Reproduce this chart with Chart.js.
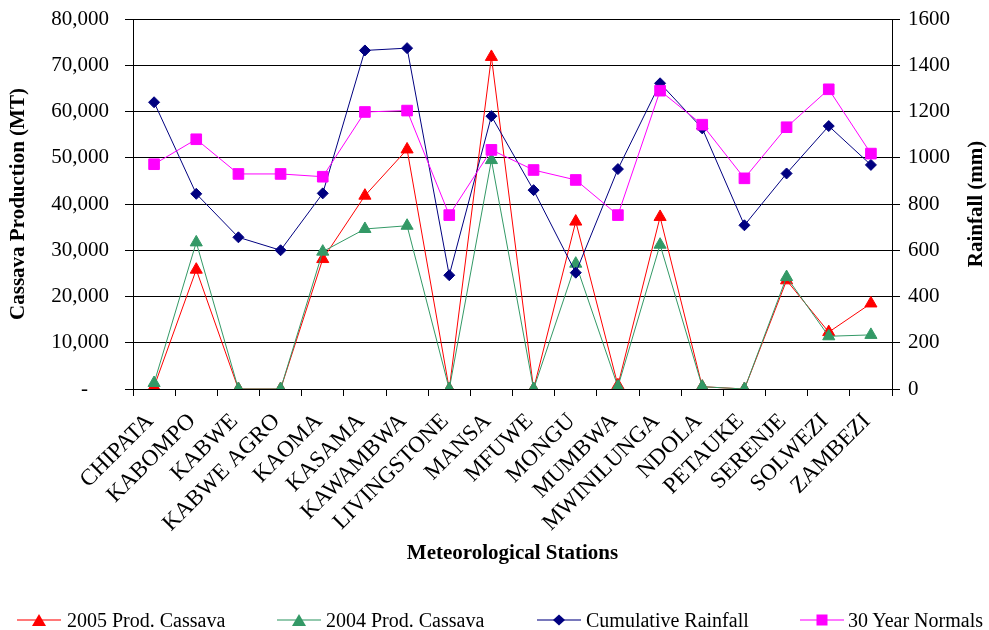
<!DOCTYPE html>
<html>
<head>
<meta charset="utf-8">
<script src="https://cdn.jsdelivr.net/npm/chart.js@4.4.1/dist/chart.umd.min.js"></script>
<style>
  html, body { margin: 0; padding: 0; background: #fff; }
  #wrap { position: relative; width: 989px; height: 630px; }
  #c { position: absolute; left: 0; top: 0; }
  .lg { position: absolute; top: 607px; height: 26px; font: 20px "Liberation Serif", "Times New Roman", serif; color: #000; white-space: nowrap; line-height: 26px; }
  .lg svg { position: absolute; top: 6px; }
  .lg span { position: absolute; top: 0; }
</style>
</head>
<body>
<div id="wrap">
  <canvas id="c" width="989" height="630"></canvas>
  <div id="legend"></div>
</div>
<script>
const categories = ["CHIPATA","KABOMPO","KABWE","KABWE AGRO","KAOMA","KASAMA","KAWAMBWA","LIVINGSTONE","MANSA","MFUWE","MONGU","MUMBWA","MWINILUNGA","NDOLA","PETAUKE","SERENJE","SOLWEZI","ZAMBEZI"];
const prod2005 = [500, 25800, 0, 0, 28100, 41800, 51800, 0, 71800, 0, 36200, 800, 37200, 500, 0, 23500, 12300, 18500];
const prod2004 = [1300, 31700, 0, 0, 29700, 34600, 35300, 0, 49500, 0, 27100, 500, 31200, 500, 0, 24200, 11400, 11700];
const cumRainfall = [1240, 844, 656, 600, 846, 1464, 1474, 492, 1180, 860, 503, 951, 1322, 1127, 708, 932, 1137, 969];
const normals30 = [972, 1080, 930, 930, 918, 1198, 1204, 752, 1034, 947, 904, 752, 1290, 1143, 911, 1132, 1296, 1018];
const leftTicks = [0, 10000, 20000, 30000, 40000, 50000, 60000, 70000, 80000];
const rightTicks = [0, 200, 400, 600, 800, 1000, 1200, 1400, 1600];
const seriesNames = ["2005 Prod. Cassava", "2004 Prod. Cassava", "Cumulative Rainfall", "30 Year Normals"];

const FONT = '"Liberation Serif", "Times New Roman", serif';
const colors = ['#FF0000', '#339966', '#000080', '#FF00FF'];
const styles = ['triangle', 'triangle', 'rectRot', 'rect'];
const radii = [7, 7, 5.5, 7.5];

function ds(i, data, axis, order) {
  return {
    label: seriesNames[i], data: data, yAxisID: axis, order: order,
    borderColor: colors[i], backgroundColor: colors[i], borderWidth: 1,
    pointStyle: styles[i], pointRadius: radii[i], pointHoverRadius: radii[i],
    pointBorderColor: colors[i], pointBackgroundColor: colors[i], pointBorderWidth: 1,
    tension: 0, fill: false
  };
}

const rightTitle = {
  id: 'rightTitle',
  afterDraw(chart) {
    const ctx = chart.ctx, a = chart.chartArea;
    ctx.save();
    ctx.translate(977, (a.top + a.bottom) / 2);
    ctx.rotate(-Math.PI / 2);
    ctx.font = 'bold 21px ' + FONT;
    ctx.fillStyle = '#000';
    ctx.textAlign = 'center';
    ctx.textBaseline = 'middle';
    ctx.fillText('Rainfall (mm)', 0, 0);
    ctx.restore();
  }
};

function fixV(w) {
  return function (s) { s.width = w; s.paddingTop = 19; s.paddingBottom = 0; };
}

new Chart(document.getElementById('c'), {
  type: 'line',
  data: {
    labels: categories,
    datasets: [
      ds(0, prod2005, 'yL', 4),
      ds(1, prod2004, 'yL', 3),
      ds(2, cumRainfall, 'yR', 2),
      ds(3, normals30, 'yR', 1)
    ]
  },
  options: {
    responsive: false, animation: false,
    layout: { padding: { top: 0, bottom: 60, left: 0, right: 0 } },
    plugins: { legend: { display: false }, tooltip: { enabled: false } },
    scales: {
      x: {
        type: 'category', offset: true,
        grid: { offset: true, drawOnChartArea: false, drawTicks: true, tickLength: 7, color: '#000' },
        border: { color: '#000', width: 1 },
        ticks: { color: '#000', font: { family: FONT, size: 23 }, maxRotation: 45, minRotation: 45, autoSkip: false, padding: 12, labelOffset: -4 },
        title: { display: true, text: 'Meteorological Stations', color: '#000', font: { family: FONT, size: 21, weight: 'bold' }, padding: { top: 0, bottom: 4 } },
        afterFit(s) { s.height = 181; s.paddingLeft = 0; s.paddingRight = 0; }
      },
      yL: {
        position: 'left', min: 0, max: 80000,
        afterBuildTicks(s) { s.ticks = leftTicks.map(v => ({ value: v })); },
        grid: { color: '#000', lineWidth: 1, drawTicks: true, tickLength: 8 },
        border: { color: '#000', width: 1 },
        ticks: { color: '#000', font: { family: FONT, size: 21 }, padding: 16,
          callback: v => v === 0 ? '-    ' : v.toLocaleString('en-US') },
        title: { display: true, text: 'Cassava Production (MT)', color: '#000', font: { family: FONT, size: 21, weight: 'bold' }, padding: { top: 6, bottom: 0 } },
        afterFit: fixV(133)
      },
      yR: {
        position: 'right', min: 0, max: 1600,
        afterBuildTicks(s) { s.ticks = rightTicks.map(v => ({ value: v })); },
        grid: { drawOnChartArea: false, color: '#000', drawTicks: true, tickLength: 8 },
        border: { color: '#000', width: 1 },
        ticks: { color: '#000', font: { family: FONT, size: 21 }, padding: 8, callback: v => String(v) },
        afterFit: fixV(97)
      }
    }
  },
  plugins: [rightTitle]
});

// HTML legend
const legendPos = [[17, 67], [277, 326], [537, 586], [800, 848]];
const lg = document.getElementById('legend');
seriesNames.forEach((name, i) => {
  const [lx, tx] = legendPos[i];
  const c = colors[i];
  let mk = '';
  if (i < 2) mk = `<polygon points="22,1 29,13 15,13" fill="${c}"/>`;
  else if (i === 2) mk = `<polygon points="22,1.5 28,7 22,12.5 16,7" fill="${c}"/>`;
  else mk = `<rect x="16.5" y="1.5" width="11" height="11" fill="${c}"/>`;
  const div = document.createElement('div');
  div.className = 'lg';
  div.style.left = '0px';
  div.innerHTML = `<svg width="45" height="14" style="left:${lx}px" xmlns="http://www.w3.org/2000/svg"><line x1="0" y1="7" x2="44" y2="7" stroke="${c}" stroke-width="1.5" opacity="0.7"/>${mk}</svg><span style="left:${tx}px">${name}</span>`;
  lg.appendChild(div);
});
</script>
</body>
</html>
